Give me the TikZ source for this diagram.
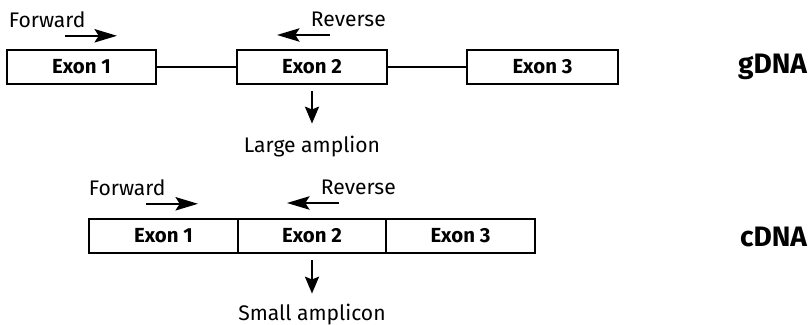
\documentclass[tikz,border=0pt]{standalone}
\usepackage{fontspec}
\setmainfont{Fira Sans}
\usepackage{tikz}
\usetikzlibrary{arrows.meta}

\begin{document}
\begin{tikzpicture}[
        exon/.style={draw, line width=1.6pt, minimum height=0.85cm, inner sep=0pt, font=\fontsize{14.5}{16}\selectfont\bfseries},
        primer/.style={line width=1.6pt, -{Stealth[length=16pt, width=9.5pt, inset=3pt]}},
        product/.style={line width=1.6pt, -{Stealth[length=12pt, width=10pt, inset=2pt]}},
        lbl/.style={font=\fontsize{15}{17}\selectfont},
        kind/.style={anchor=east, font=\fontsize{20}{22}\selectfont\bfseries}
    ]
        \useasboundingbox (0,0) rectangle (20.25,8.125);

        % gDNA
        \node[exon, minimum width=3.725cm] (g1) at (2.0375,6.45) {Exon 1};
        \node[exon, minimum width=3.75cm]  (g2) at (7.8,6.45)    {Exon 2};
        \node[exon, minimum width=3.775cm] (g3) at (13.5625,6.45) {Exon 3};
        \node[kind] (gdna) at (20.3,6.45) {gDNA};

        \node[lbl, anchor=west] (gfwd) at (0.1,7.63) {Forward};
        \node[lbl, anchor=west] (grev) at (7.65,7.63)  {Reverse};
        \coordinate (gfwdA) at (1.625,7.23);
        \coordinate (gfwdB) at (2.925,7.23);
        \coordinate (grevA) at (8.25,7.25);
        \coordinate (grevB) at (6.925,7.25);

        \node[lbl] (large) at (7.8,4.45) {Large amplion};

        \draw[line width=1.3pt] (g1) -- (g2);
        \draw[line width=1.3pt] (g2) -- (g3);
        \draw[primer] (gfwdA) -- (gfwdB);
        \draw[primer] (grevA) -- (grevB);
        \draw[product, shorten <=0.15cm, shorten >=0.2cm] (g2) -- (large);

        % cDNA
        \node[exon, minimum width=3.725cm] (c1) at (4.0875,2.225) {Exon 1};
        \node[exon, minimum width=3.7cm]   (c2) at (7.8,2.225)    {Exon 2};
        \node[exon, minimum width=3.725cm] (c3) at (11.5125,2.225) {Exon 3};
        \node[kind] (cdna) at (20.3,2.2) {cDNA};

        \node[lbl, anchor=west] (cfwd) at (2.1,3.43) {Forward};
        \node[lbl, anchor=west] (crev) at (7.9,3.43) {Reverse};
        \coordinate (cfwdA) at (3.65,3.03);
        \coordinate (cfwdB) at (4.95,3.03);
        \coordinate (crevA) at (8.475,3.05);
        \coordinate (crevB) at (7.175,3.05);

        \node[lbl] (small) at (7.8,0.25) {Small amplicon};

        \draw[primer] (cfwdA) -- (cfwdB);
        \draw[primer] (crevA) -- (crevB);
        \draw[product, shorten <=0.15cm, shorten >=0.15cm] (c2) -- (small);
    \end{tikzpicture}
\end{document}
